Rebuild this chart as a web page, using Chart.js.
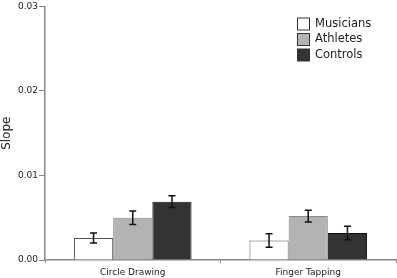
<!DOCTYPE html>
<html>
<head>
<meta charset="utf-8">
<script src="https://cdn.jsdelivr.net/npm/chart.js@4.4.0/dist/chart.umd.min.js"></script>
<style>
  html, body { margin: 0; padding: 0; background: #fff; }
  #wrap { width: 397px; height: 278px; }
</style>
</head>
<body>
<div id="wrap"><canvas id="slopeChart"></canvas></div>
<script>
// data
var tasks = ["Circle Drawing", "Finger Tapping"];
var groups = ["Musicians", "Athletes", "Controls"];
var musicians = [0.0026, 0.0023];
var athletes = [0.0050, 0.0052];
var controls = [0.0069, 0.0032];
// error bar half-lengths (SEM)
var musiciansErr = [0.0006, 0.0008];
var athletesErr = [0.0008, 0.0007];
var controlsErr = [0.0007, 0.0008];
var yTicks = [0, 0.01, 0.02, 0.03];

var fills = ["#ffffff", "#b3b3b3", "#333333"];
var borders = ["#555555", "#8a8a8a", "#111111"];

var errorBars = {
    id: 'errorBars',
    afterDatasetsDraw: function(chart) {
        var ctx = chart.ctx;
        var yScale = chart.scales.y;
        var errs = [musiciansErr, athletesErr, controlsErr];
        ctx.save();
        ctx.strokeStyle = "#111";
        ctx.lineWidth = 1.5;
        chart.data.datasets.forEach(function(ds, i) {
            var meta = chart.getDatasetMeta(i);
            meta.data.forEach(function(bar, j) {
                var v = ds.data[j];
                var top = yScale.getPixelForValue(v + errs[i][j]);
                var bot = yScale.getPixelForValue(v - errs[i][j]);
                var x = bar.x;
                ctx.beginPath();
                ctx.moveTo(x, top); ctx.lineTo(x, bot);
                ctx.moveTo(x - 3.5, top); ctx.lineTo(x + 3.5, top);
                ctx.moveTo(x - 3.5, bot); ctx.lineTo(x + 3.5, bot);
                ctx.stroke();
            });
        });
        ctx.restore();
    }
};

var boxLegend = {
    id: 'boxLegend',
    afterDraw: function(chart) {
        var ctx = chart.ctx;
        ctx.save();
        ctx.font = "11.5px 'DejaVu Sans'";
        ctx.textBaseline = "middle";
        chart.data.datasets.forEach(function(ds, i) {
            var cy = 24 + i * 15.5;
            ctx.fillStyle = fills[i];
            ctx.fillRect(297.5, cy - 6, 12, 12);
            ctx.strokeStyle = "#333";
            ctx.lineWidth = 1;
            ctx.strokeRect(297.5, cy - 6, 12, 12);
            ctx.fillStyle = "#222";
            ctx.fillText(ds.label, 315, cy);
        });
        ctx.restore();
    }
};

var datasets = [musicians, athletes, controls].map(function(vals, i) {
    return {
        label: groups[i],
        data: vals,
        backgroundColor: fills[i],
        borderColor: borders[i],
        borderWidth: 1,
        borderSkipped: 'bottom'
    };
});

var chart = new Chart(document.getElementById('slopeChart'), {
    type: 'bar',
    data: { labels: tasks, datasets: datasets },
    options: {
        responsive: true,
        maintainAspectRatio: false,
        animation: false,
        categoryPercentage: 0.67,
        barPercentage: 1.0,
        layout: { padding: { top: 0, right: 1, left: 0, bottom: 0 } },
        plugins: { legend: { display: false }, tooltip: { enabled: false } },
        scales: {
            x: {
                offset: true,
                grid: { offset: true, drawOnChartArea: false, drawTicks: true, tickLength: 3, color: "#888" },
                border: { color: "#888", width: 1.5 },
                ticks: { color: "#222", font: { family: "'DejaVu Sans'", size: 9 }, padding: 4 },
                afterFit: function(scale) { scale.height = 18; }
            },
            y: {
                min: 0,
                max: 0.03,
                afterBuildTicks: function(scale) {
                    scale.ticks = yTicks.map(function(v) { return { value: v }; });
                },
                grid: { drawOnChartArea: false, drawTicks: true, tickLength: 6, color: "#888" },
                border: { color: "#888", width: 1.5 },
                ticks: {
                    color: "#222",
                    font: { family: "'DejaVu Sans'", size: 9 },
                    padding: 1,
                    callback: function(v) { return v.toFixed(2); }
                },
                title: { display: true, text: "Slope", color: "#222", font: { family: "'DejaVu Sans'", size: 12 }, padding: 0 },
                afterFit: function(scale) { scale.width = 45; }
            }
        }
    },
    plugins: [errorBars, boxLegend]
});
</script>
</body>
</html>
